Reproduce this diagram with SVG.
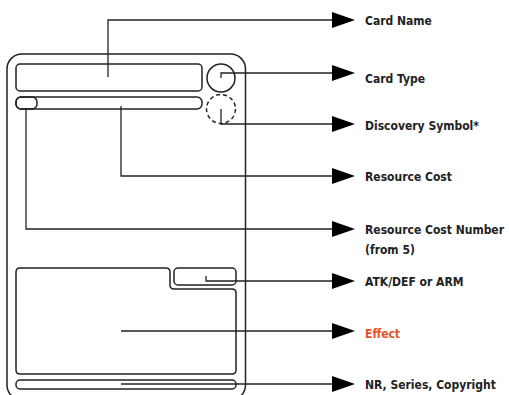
<svg xmlns="http://www.w3.org/2000/svg" width="509" height="395" viewBox="0 0 509 395">
<defs>
<style>
.card{fill:none;stroke:#222;stroke-width:1.5}
.con{fill:none;stroke:#222;stroke-width:1.3}
.arr{fill:#000}
.lbl{font-family:"DejaVu Sans Condensed","DejaVu Sans",sans-serif;font-weight:bold;font-size:12px;fill:#222}
</style>
</defs>
<rect x="0" y="0" width="509" height="395" fill="#fff"/>
<g id="card">
<rect class="card" x="7" y="54" width="238.5" height="346" rx="15"/>
</g>
<g id="name-box"><rect class="card" x="16" y="64" width="186" height="27" rx="4"/></g>
<g id="type-circle"><circle class="card" cx="221" cy="78" r="14"/></g>
<g id="resource-bar"><rect class="card" x="16" y="97" width="186" height="12" rx="5"/></g>
<g id="cost-number-box"><rect class="card" x="16" y="97" width="21" height="12" rx="5"/></g>
<g id="discovery-circle"><circle class="card" cx="221" cy="109" r="14.5" stroke-dasharray="4,3"/></g>
<g id="stats-box"><rect class="card" x="174" y="268" width="62" height="17" rx="4"/></g>
<g id="effect-box"><path class="card" d="M20,268 H166 Q170,268 170,272 V285 Q170,289 174,289 H232 Q236,289 236,293 V370 Q236,374 232,374 H20 Q16,374 16,370 V272 Q16,268 20,268 Z"/></g>
<g id="footer-bar"><rect class="card" x="16" y="380" width="220" height="9" rx="4"/></g>
<g id="connectors">
<polyline class="con" points="108,77 108,20 334,20"/>
<polyline class="con" points="221,78 221,73 334,73"/>
<polyline class="con" points="221,109 221,124 334,124"/>
<polyline class="con" points="121,106 121,176 334,176"/>
<polyline class="con" points="26,108 26,229 334,229"/>
<polyline class="con" points="206,276 206,281 334,281"/>
<line class="con" x1="121" y1="331" x2="334" y2="331" stroke-width="2"/>
<line class="con" x1="121" y1="384" x2="334" y2="384" stroke-width="2"/>
<polygon class="arr" points="332,12 355,20 332,28"/>
<polygon class="arr" points="332,65 355,73 332,81"/>
<polygon class="arr" points="332,116 355,124 332,132"/>
<polygon class="arr" points="332,168 355,176 332,184"/>
<polygon class="arr" points="332,221 355,229 332,237"/>
<polygon class="arr" points="332,273 355,281 332,289"/>
<polygon class="arr" points="332,323 355,331 332,339"/>
<polygon class="arr" points="332,376 355,384 332,392"/>
</g>
<g id="labels">
<text class="lbl" x="365" y="25">Card Name</text>
<text class="lbl" x="365" y="83">Card Type</text>
<text class="lbl" x="365" y="130">Discovery Symbol*</text>
<text class="lbl" x="365" y="181">Resource Cost</text>
<text class="lbl" x="365" y="234">Resource Cost Number</text>
<text class="lbl" x="365" y="254">(from 5)</text>
<text class="lbl" x="365" y="286">ATK/DEF or ARM</text>
<text class="lbl" x="365" y="338" style="fill:#e8502a">Effect</text>
<text class="lbl" x="365" y="389">NR, Series, Copyright</text>
</g>
</svg>
